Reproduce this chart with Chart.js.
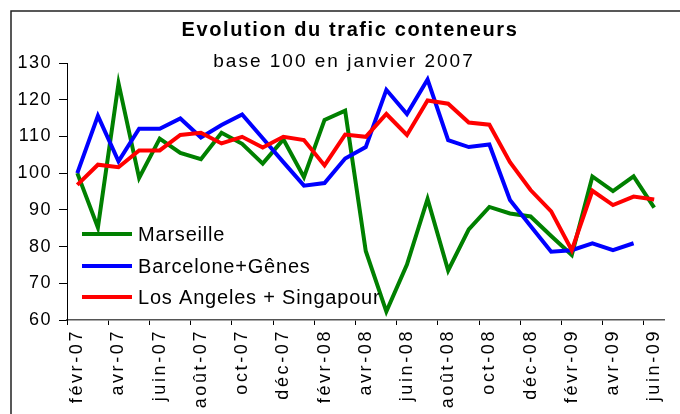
<!DOCTYPE html>
<html>
<head>
<meta charset="utf-8">
<script src="https://cdn.jsdelivr.net/npm/chart.js@4/dist/chart.umd.min.js"></script>
<style>
html,body{margin:0;padding:0;background:#fff;}
canvas{display:block;}
</style>
</head>
<body>
<canvas id="c" width="680" height="414"></canvas>
<script>
const titleText = "Evolution du trafic conteneurs";
const subtitleText = "base 100 en janvier 2007";
const months = ["févr-07","mars-07","avr-07","mai-07","juin-07","juil-07","août-07","sept-07","oct-07","nov-07","déc-07","janv-08",
  "févr-08","mars-08","avr-08","mai-08","juin-08","juil-08","août-08","sept-08","oct-08","nov-08","déc-08","janv-09",
  "févr-09","mars-09","avr-09","mai-09","juin-09"];
const seriesNames = ["Marseille", "Barcelone+Gênes", "Los Angeles + Singapour"];
const marseille = [100, 85.2, 124.5, 98.7, 109.4, 105.5, 103.8, 111, 108, 102.6, 109.2, 98.9, 114.5, 117, 78.8, 62.3, 75.1, 93, 73.5, 84.7, 90.8, 89, 88.2, 82.9, 77.7, 99.1, 95.1, 99.1, 90.6];
const barceloneGenes = [100, 115.6, 103.2, 112.1, 112.1, 114.9, 109.7, 113.1, 116, 109.5, 103, 96.6, 97.3, 104, 107.1, 122.7, 116.1, 125.5, 109, 107.1, 107.8, 92.7, 85.6, 78.6, 79, 80.9, 79, 80.9, null];
const losAngelesSingapour = [96.8, 102.3, 101.6, 106.2, 106.2, 110.4, 111, 108.1, 109.9, 107, 109.9, 109, 102.1, 110.5, 109.9, 116.1, 110.4, 119.8, 118.9, 113.8, 113.2, 103, 95.4, 89.6, 79, 95.2, 91.3, 93.6, 92.8];
const yTicks = [60, 70, 80, 90, 100, 110, 120, 130];
const colors = ["#008000", "#0000FF", "#FF0000"];
const FONT = '"Liberation Sans", Arial, sans-serif';

const framePlugin = {
  id: 'frame',
  beforeDraw(chart) {
    const c = chart.ctx;
    c.save();
    c.fillStyle = '#fff';
    c.fillRect(0, 0, chart.width, chart.height);
    c.strokeStyle = '#222';
    c.lineWidth = 1.5;
    c.strokeRect(11, 11, chart.width + 20, chart.height + 20);
    c.restore();
    [['x', '2.6px'], ['y', '1.5px']].forEach(([id, sp]) => {
      const s = chart.scales[id];
      if (s && !s._spPatched) {
        const orig = s.drawLabels.bind(s);
        s.drawLabels = function (area) {
          const cx = this.ctx;
          cx.save();
          cx.letterSpacing = sp;
          orig(area);
          cx.restore();
        };
        s._spPatched = true;
      }
    });
  },
  afterDraw(chart) {
    const c = chart.ctx;
    c.save();
    c.fillStyle = '#000';
    c.textAlign = 'center';
    c.textBaseline = 'middle';
    c.font = 'bold 20px ' + FONT;
    c.letterSpacing = '1.6px';
    c.fillText(titleText, 350, 30);
    c.font = '19px ' + FONT;
    c.letterSpacing = '2px';
    c.fillText(subtitleText, 344, 62);
    // legend
    c.textAlign = 'left';
    c.font = '20px ' + FONT;
    c.letterSpacing = '0.8px';
    const ys = [234, 266, 297];
    seriesNames.forEach((n, i) => {
      c.strokeStyle = colors[i];
      c.lineWidth = 4;
      c.beginPath();
      c.moveTo(82, ys[i]);
      c.lineTo(132, ys[i]);
      c.stroke();
      c.fillStyle = '#000';
      c.fillText(n, 138, ys[i] + 1);
    });
    c.restore();
  }
};

const mk = (label, data, color, order) => ({
  label, data, borderColor: color, backgroundColor: color, borderWidth: 4,
  pointRadius: 0, tension: 0, fill: false, order, spanGaps: false,
  borderJoinStyle: 'miter', borderCapStyle: 'butt'
});

new Chart(document.getElementById('c'), {
  type: 'line',
  data: {
    labels: months,
    datasets: [
      mk(seriesNames[0], marseille, colors[0], 3),
      mk(seriesNames[1], barceloneGenes, colors[1], 2),
      mk(seriesNames[2], losAngelesSingapour, colors[2], 1)
    ]
  },
  options: {
    responsive: false,
    devicePixelRatio: 1,
    animation: false,
    layout: { padding: { top: 63, right: 12, left: 0, bottom: 0 } },
    plugins: { legend: { display: false }, tooltip: { enabled: false }, title: { display: false } },
    scales: {
      x: {
        type: 'category',
        offset: true,
        afterFit(s) { s.height = 94; },
        border: { display: true, color: '#555', width: 1.5 },
        grid: {
          display: true, offset: true, drawOnChartArea: false, drawTicks: true, tickLength: 5,
          tickColor: (ctx) => (ctx.index !== undefined && ctx.index % 2 === 0) ? '#000' : 'rgba(0,0,0,0)',
          tickWidth: 1
        },
        ticks: {
          autoSkip: false, maxRotation: 90, minRotation: 90, padding: 4,
          color: '#000', font: { family: FONT, size: 18 },
          callback: (v, i) => (i % 2 === 0 ? months[i] : '')
        }
      },
      y: {
        min: 60, max: 130,
        afterFit(s) { s.width = 67; },
        afterBuildTicks(s) { s.ticks = yTicks.map(v => ({ value: v })); },
        border: { display: true, color: '#000', width: 1 },
        grid: { display: true, drawOnChartArea: false, drawTicks: true, tickLength: 8, tickColor: '#000' },
        ticks: { padding: 7, color: '#000', font: { family: FONT, size: 18 } }
      }
    }
  },
  plugins: [framePlugin]
});
</script>
</body>
</html>
